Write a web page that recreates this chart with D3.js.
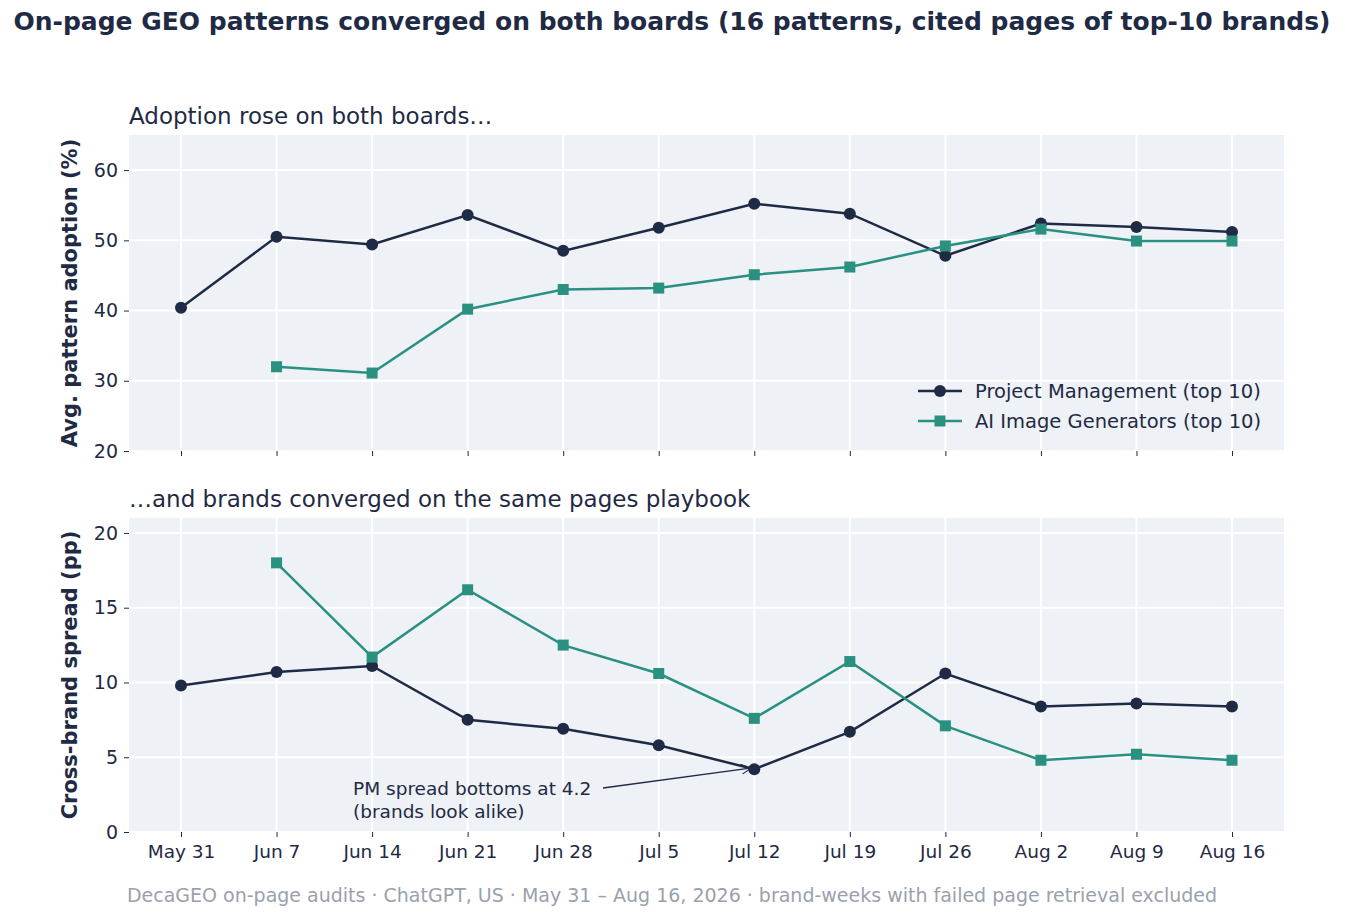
<!DOCTYPE html>
<html><head><meta charset="utf-8">
<script src="https://cdn.jsdelivr.net/npm/d3@7"></script>
<style>body{margin:0;background:#fff;font-family:"DejaVu Sans",sans-serif}</style>
</head><body><svg id="chart" width="1345" height="919"></svg>
<script>
const weeks = ['May 31','Jun 7','Jun 14','Jun 21','Jun 28','Jul 5','Jul 12','Jul 19','Jul 26','Aug 2','Aug 9','Aug 16']
const pmAdoption = [40.4, 50.5, 49.4, 53.6, 48.5, 51.8, 55.2, 53.8, 47.8, 52.4, 51.9, 51.2]
const aiAdoption = [null, 32.0, 31.1, 40.2, 43.0, 43.2, 45.1, 46.2, 49.2, 51.6, 49.9, 49.9]
const pmSpread = [9.8, 10.7, 11.1, 7.5, 6.9, 5.8, 4.2, 6.7, 10.6, 8.4, 8.6, 8.4]
const aiSpread = [null, 18.0, 11.7, 16.2, 12.5, 10.6, 7.6, 11.4, 7.1, 4.8, 5.2, 4.8]
const adoptTicks = [20, 30, 40, 50, 60]
const spreadTicks = [0, 5, 10, 15, 20]

const dark = '#1f2a44', teal = '#2a9080', ink = '#1f2a44'
const svg = d3.select('#chart')
const x = d3.scalePoint().domain(weeks).range([181, 1232])
const left = 129, right = 1284

svg.append('text').attr('x', 672).attr('y', 30).attr('text-anchor', 'middle')
    .attr('font-size', 25).attr('font-weight', 'bold').attr('fill', ink)
    .text('On-page GEO patterns converged on both boards (16 patterns, cited pages of top-10 brands)')

function panel(top, bottom, domain, ticks, series, subtitle, ylabel, showX) {
    const y = d3.scaleLinear().domain(domain).range([bottom, top])
    const g = svg.append('g')
    g.append('rect').attr('x', left).attr('y', top).attr('width', right - left).attr('height', bottom - top).attr('fill', '#eef1f6')
    g.selectAll().data(ticks).enter().append('line')
        .attr('x1', left).attr('x2', right).attr('y1', d => y(d)).attr('y2', d => y(d))
        .attr('stroke', '#fff').attr('stroke-width', 2)
    g.selectAll().data(weeks).enter().append('line')
        .attr('x1', d => x(d)).attr('x2', d => x(d)).attr('y1', top).attr('y2', bottom)
        .attr('stroke', '#fff').attr('stroke-width', 2)
    const ya = g.append('g').attr('transform', `translate(${left},0)`)
        .call(d3.axisLeft(y).tickValues(ticks).tickSize(5).tickPadding(6))
    ya.select('.domain').remove()
    ya.selectAll('text').attr('font-size', 19).attr('fill', ink).attr('font-family', 'DejaVu Sans')
    ya.selectAll('line').attr('stroke', ink)
    const xa = g.append('g').attr('transform', `translate(0,${bottom})`)
        .call(d3.axisBottom(x).tickSize(5).tickPadding(8).tickFormat(showX ? d => d : ''))
    xa.select('.domain').remove()
    xa.selectAll('text').attr('font-size', 18.5).attr('fill', ink).attr('font-family', 'DejaVu Sans')
    xa.selectAll('line').attr('stroke', ink)
    g.append('text').attr('x', left).attr('y', top - 11).attr('font-size', 23).attr('fill', ink).text(subtitle)
    g.append('text').attr('transform', `translate(77,${(top + bottom) / 2}) rotate(-90)`)
        .attr('text-anchor', 'middle').attr('font-size', 21).attr('font-weight', 'bold').attr('fill', ink).text(ylabel)
    series.forEach(s => {
        const pts = weeks.map((w, i) => ({ w, v: s.values[i] })).filter(d => d.v != null)
        g.append('path').datum(pts).attr('fill', 'none').attr('stroke', s.color).attr('stroke-width', 2.5)
            .attr('d', d3.line().x(d => x(d.w)).y(d => y(d.v)))
        if (s.square) {
            g.selectAll().data(pts).enter().append('rect')
                .attr('x', d => x(d.w) - 5.5).attr('y', d => y(d.v) - 5.5).attr('width', 11).attr('height', 11).attr('fill', s.color)
        } else {
            g.selectAll().data(pts).enter().append('circle')
                .attr('cx', d => x(d.w)).attr('cy', d => y(d.v)).attr('r', 6).attr('fill', s.color)
        }
    })
    return y
}

const y1 = panel(135, 451, [20, 65], adoptTicks, [
    { values: pmAdoption, color: dark }, { values: aiAdoption, color: teal, square: true }
], 'Adoption rose on both boards…', 'Avg. pattern adoption (%)', false)

const y2 = panel(518, 832, [0, 21], spreadTicks, [
    { values: pmSpread, color: dark }, { values: aiSpread, color: teal, square: true }
], '…and brands converged on the same pages playbook', 'Cross-brand spread (pp)', true)

// legend
const legend = [{ name: 'Project Management (top 10)', color: dark }, { name: 'AI Image Generators (top 10)', color: teal, square: true }]
legend.forEach((l, i) => {
    const ly = 391 + i * 30
    svg.append('line').attr('x1', 918).attr('x2', 962).attr('y1', ly).attr('y2', ly).attr('stroke', l.color).attr('stroke-width', 2.5)
    if (l.square) svg.append('rect').attr('x', 934.5).attr('y', ly - 5.5).attr('width', 11).attr('height', 11).attr('fill', l.color)
    else svg.append('circle').attr('cx', 940).attr('cy', ly).attr('r', 6).attr('fill', l.color)
    svg.append('text').attr('x', 975).attr('y', ly + 7).attr('font-size', 19.5).attr('fill', ink).text(l.name)
})

// annotation
const ax = x('Jul 12'), ay = y2(4.2)
svg.append('defs').append('marker').attr('id', 'arr').attr('viewBox', '0 0 10 10').attr('refX', 9).attr('refY', 5)
    .attr('markerWidth', 8).attr('markerHeight', 8).attr('orient', 'auto')
    .append('path').attr('d', 'M0,0 L10,5 L0,10').attr('fill', 'none').attr('stroke', ink)
svg.append('line').attr('x1', 603).attr('y1', 788).attr('x2', ax - 4).attr('y2', ay - 1)
    .attr('stroke', ink).attr('stroke-width', 1.3).attr('marker-end', 'url(#arr)')
svg.append('text').attr('x', 353).attr('y', 795).attr('font-size', 18.5).attr('fill', ink).text('PM spread bottoms at 4.2')
svg.append('text').attr('x', 353).attr('y', 818).attr('font-size', 18.5).attr('fill', ink).text('(brands look alike)')

svg.append('text').attr('x', 672).attr('y', 902).attr('text-anchor', 'middle').attr('font-size', 19).attr('fill', '#9aa1ad')
    .text('DecaGEO on-page audits · ChatGPT, US · May 31 – Aug 16, 2026 · brand-weeks with failed page retrieval excluded')
</script></body></html>
